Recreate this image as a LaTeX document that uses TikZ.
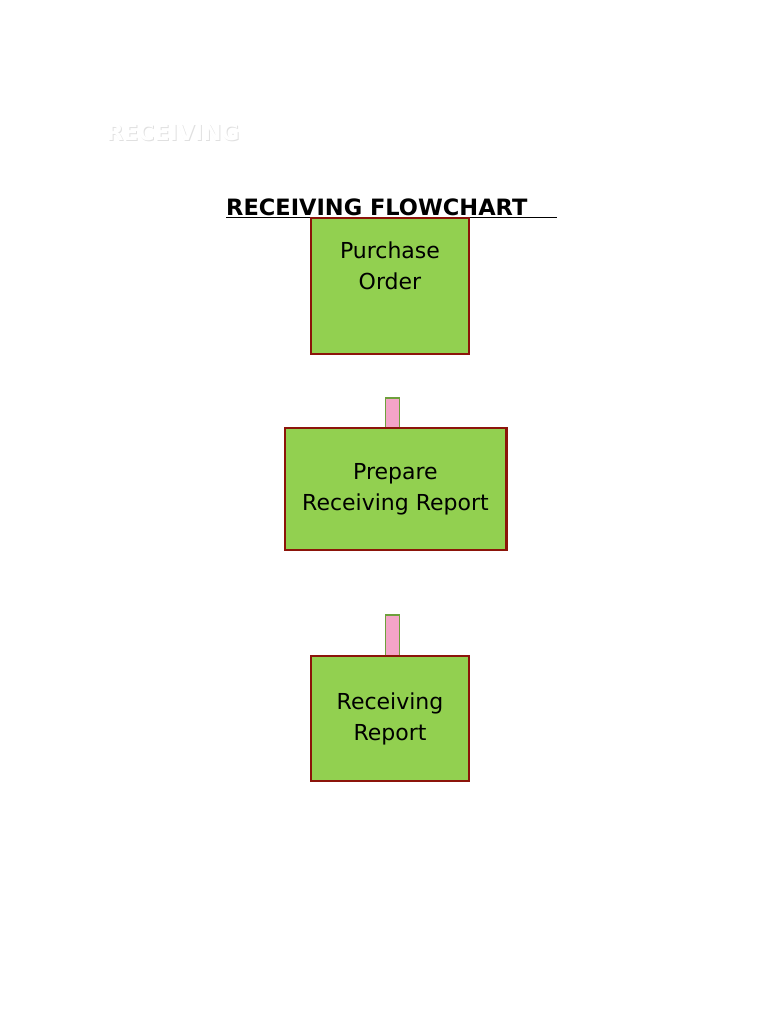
\documentclass[tikz,border=0pt]{standalone}
\usepackage{fontspec}
\setmainfont{DejaVu Sans}
\usetikzlibrary{positioning}
\definecolor{boxgreen}{RGB}{146,208,80}
\definecolor{boxred}{RGB}{140,20,10}
\definecolor{barpink}{RGB}{244,164,200}
\definecolor{bargreen}{RGB}{110,160,60}
\begin{document}
\begin{tikzpicture}[x=1bp,y=-1bp,box/.style={draw=boxred,line width=1.5bp,fill=boxgreen,align=center,inner sep=0pt,font=\fontsize{22bp}{31bp}\selectfont},bar/.style={draw=bargreen,line width=1.2bp,fill=barpink,minimum width=14bp,inner sep=0pt}]
     \useasboundingbox (0,0) rectangle (768,1024);
     \node[text=black!12,font=\bfseries\fontsize{22bp}{24bp}\selectfont,anchor=west] at (104,133) {RECEIVING};
     \node[text=white,font=\bfseries\fontsize{22bp}{24bp}\selectfont,anchor=west] (head) at (103,132) {RECEIVING};
     \node[font=\bfseries\fontsize{22.5bp}{24bp}\selectfont,anchor=west,inner sep=0pt] (title) at (226,207) {RECEIVING FLOWCHART};
     \draw[line width=1bp] (226,217.5) -- (557,217.5);

     \node[box,minimum width=158bp,minimum height=136bp] (po) at (390,286) {};
     \node[align=center,font=\fontsize{22bp}{31bp}\selectfont,anchor=north] (potext) at (390,238) {Purchase\\Order};
     \node[bar,minimum height=38bp] (bar1) at (392.5,417) {};
     \node[box,minimum width=221bp,minimum height=121bp] (prep) at (395.5,489) {Prepare\\Receiving Report};
     \node[bar,minimum height=41bp] (bar2) at (392.5,635.5) {};
     \node[box,minimum width=158bp,minimum height=125bp] (rr) at (390,718.5) {Receiving\\Report};
     \draw[draw=boxred,line width=1.5bp] (prep.south west) rectangle (prep.north east);
    \end{tikzpicture}
\end{document}
